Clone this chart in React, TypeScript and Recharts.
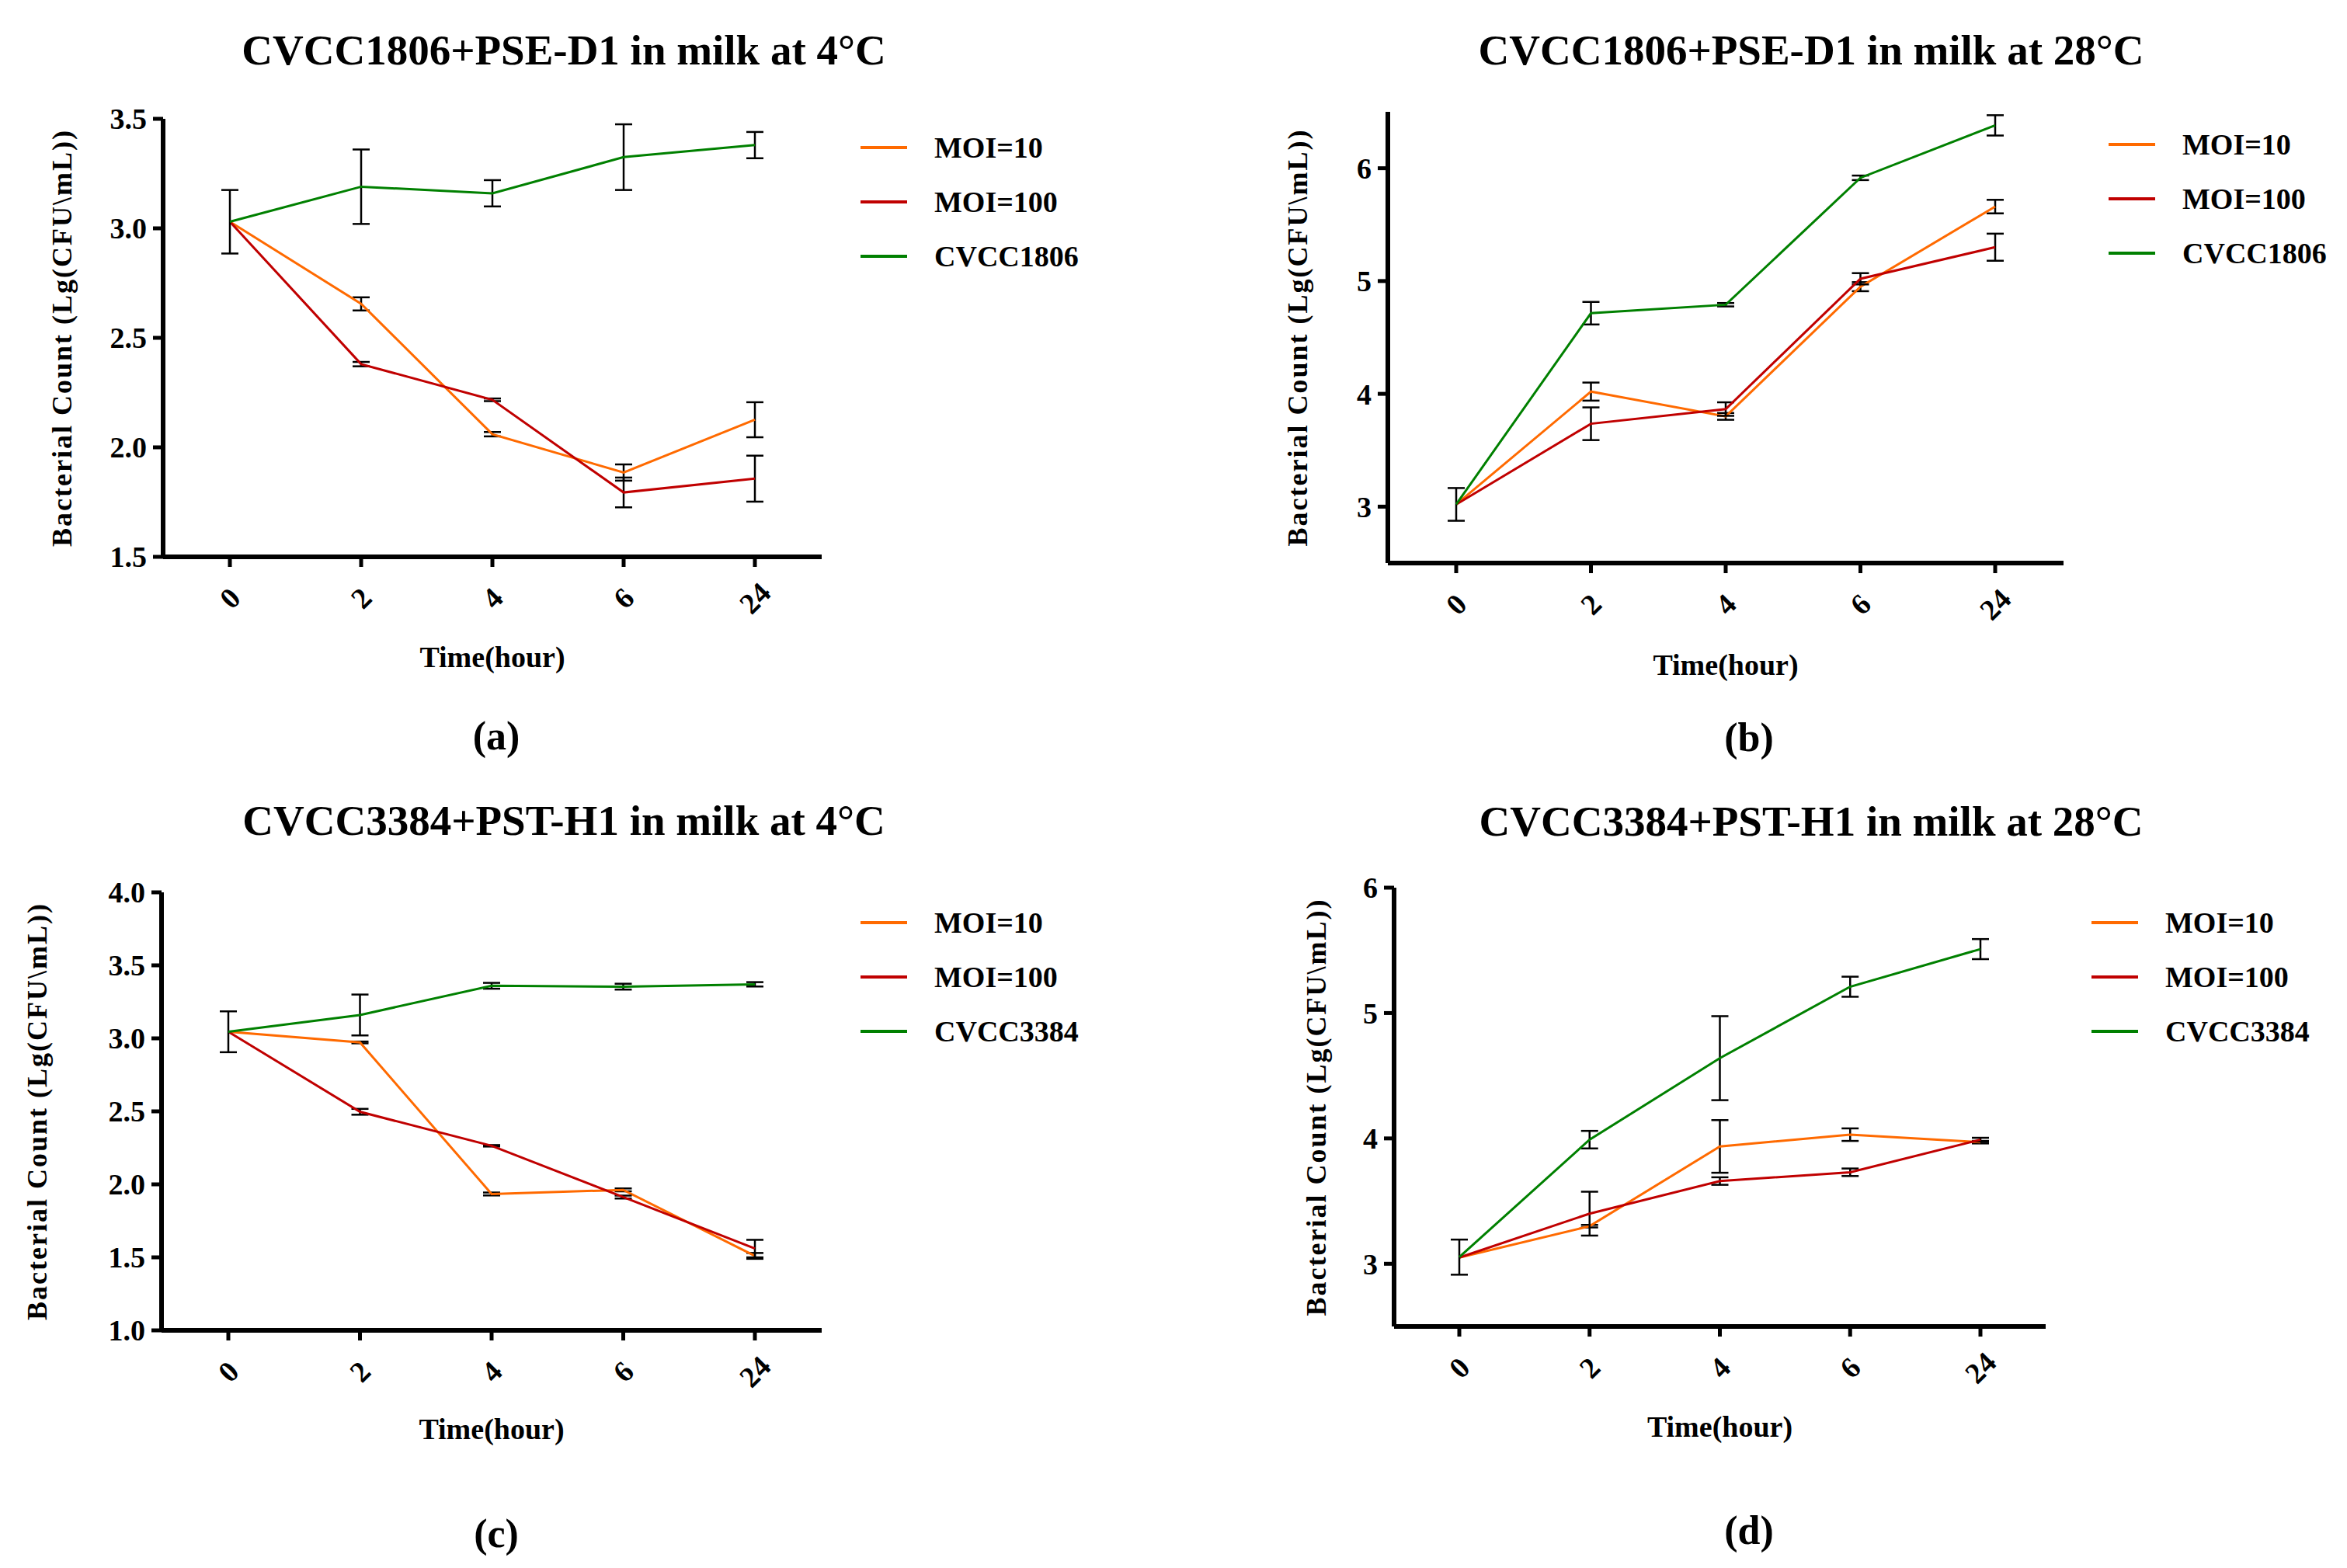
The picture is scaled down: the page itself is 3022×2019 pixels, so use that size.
import React from 'react';
import { LineChart, Line, XAxis, YAxis, ErrorBar, Legend } from 'recharts';

// Sampling times (hours) shared by all four panels
const TIMES = ['0', '2', '4', '6', '24'];

// (a) CVCC1806 + PSE-D1, 4°C
const A_MOI10 = [3.03, 2.655, 2.06, 1.885, 2.126];
const A_MOI10_ERR = [0, 0.03, 0.01, 0.037, 0.08];
const A_MOI100 = [3.03, 2.38, 2.217, 1.794, 1.857];
const A_MOI100_ERR = [0, 0.01, 0.006, 0.068, 0.105];
const A_CTRL = [3.03, 3.19, 3.16, 3.325, 3.38];
const A_CTRL_ERR = [0.145, 0.17, 0.06, 0.15, 0.06];

// (b) CVCC1806 + PSE-D1, 28°C
const B_MOI10 = [3.02, 4.02, 3.8, 4.95, 5.66];
const B_MOI10_ERR = [0, 0.08, 0.03, 0.04, 0.06];
const B_MOI100 = [3.02, 3.735, 3.865, 5.02, 5.3];
const B_MOI100_ERR = [0, 0.145, 0.06, 0.05, 0.12];
const B_CTRL = [3.02, 4.715, 4.79, 5.915, 6.38];
const B_CTRL_ERR = [0.145, 0.1, 0.015, 0.02, 0.09];

// (c) CVCC3384 + PST-H1, 4°C
const C_MOI10 = [3.045, 2.972, 1.934, 1.962, 1.51];
const C_MOI10_ERR = [0, 0.006, 0.01, 0.01, 0.02];
const C_MOI100 = [3.045, 2.497, 2.264, 1.913, 1.56];
const C_MOI100_ERR = [0, 0.02, 0.005, 0.01, 0.06];
const C_CTRL = [3.045, 3.16, 3.36, 3.354, 3.37];
const C_CTRL_ERR = [0.14, 0.14, 0.02, 0.02, 0.015];

// (d) CVCC3384 + PST-H1, 28°C
const D_MOI10 = [3.05, 3.3, 3.936, 4.03, 3.97];
const D_MOI10_ERR = [0, 0.01, 0.21, 0.05, 0.01];
const D_MOI100 = [3.05, 3.4, 3.66, 3.73, 3.99];
const D_MOI100_ERR = [0, 0.175, 0.03, 0.03, 0.015];
const D_CTRL = [3.053, 3.99, 4.64, 5.21, 5.51];
const D_CTRL_ERR = [0.14, 0.07, 0.335, 0.08, 0.08];

const TICKS_4C_A = [1.5, 2.0, 2.5, 3.0, 3.5];
const TICKS_4C_C = [1.0, 1.5, 2.0, 2.5, 3.0, 3.5, 4.0];
const TICKS_28C = [3, 4, 5, 6];

// legend rows in the order the figure lists them
const LEGEND_ORDER = ['moi10', 'moi100', 'ctrl'];

const ORANGE = '#ff6a00';
const RED = '#c00000';
const GREEN = '#008000';
const FONT = '"Liberation Serif", "Times New Roman", serif';

const buildRows = (m10, m10e, m100, m100e, ctrl, ctrle) =>
  TIMES.map((t, i) => ({
    time: t,
    moi10: m10[i],
    moi10Err: m10e[i],
    moi100: m100[i],
    moi100Err: m100e[i],
    ctrl: ctrl[i],
    ctrlErr: ctrle[i],
  }));

const TimeTick = (props: any) => {
  const { x, y, payload } = props;
  const cy = y + 40;
  return (
    <text
      x={x}
      y={cy}
      textAnchor="middle"
      dominantBaseline="central"
      transform={`rotate(-45 ${x} ${cy})`}
      fontFamily={FONT}
      fontWeight="bold"
      fontSize={38}
      fill="#000"
    >
      {payload.value}
    </text>
  );
};

const LegendBox = ({ payload }: any) => {
  const items = [...(payload || [])].sort(
    (p: any, q: any) => LEGEND_ORDER.indexOf(p.dataKey) - LEGEND_ORDER.indexOf(q.dataKey)
  );
  return (
    <div style={{ fontFamily: FONT, fontWeight: 'bold', fontSize: 38 }}>
      {items.map((e: any) => (
        <div key={e.value} style={{ height: 70, display: 'flex', alignItems: 'center' }}>
          <svg width={60} height={6} style={{ display: 'block' }}>
            <line x1={0} y1={3} x2={60} y2={3} stroke={e.color} strokeWidth={4} />
          </svg>
          <span style={{ marginLeft: 35, whiteSpace: 'nowrap', color: '#000' }}>{e.value}</span>
        </div>
      ))}
    </div>
  );
};

const Panel = ({
  ox, oy, w, h, margin, pad, rows, domain, ticks, decimals,
  strain, title, letter, titleX, titleY, yLabelDist, xLabelDist, legendX, legendY, letterX, letterY,
}: any) => (
  <div style={{ position: 'absolute', left: ox, top: oy, width: w, height: h }}>
    <div
      style={{
        position: 'absolute', left: titleX, top: titleY, transform: 'translate(-50%, -50%)',
        fontFamily: FONT, fontWeight: 'bold', fontSize: 55, whiteSpace: 'nowrap',
      }}
    >
      {title}
    </div>
    <div
      style={{
        position: 'absolute', left: letterX, top: letterY, transform: 'translate(-50%, -50%)',
        fontFamily: FONT, fontWeight: 'bold', fontSize: 52, whiteSpace: 'nowrap',
      }}
    >
      {letter}
    </div>
    <LineChart width={w} height={h} data={rows} margin={margin}>
      <XAxis
        dataKey="time"
        type="category"
        padding={{ left: pad, right: pad }}
        axisLine={{ stroke: '#000', strokeWidth: 6 }}
        tickLine={{ stroke: '#000', strokeWidth: 5 }}
        tickSize={13}
        tickMargin={0}
        height={100}
        tick={<TimeTick />}
        interval={0}
        label={{
          content: ({ viewBox }: any) => (
            <text
              x={viewBox.x + viewBox.width / 2}
              y={viewBox.y + xLabelDist}
              textAnchor="middle"
              dominantBaseline="central"
              fontFamily={FONT}
              fontWeight="bold"
              fontSize={38}
              fill="#000"
            >
              Time(hour)
            </text>
          ),
        }}
      />
      <YAxis
        type="number"
        domain={domain}
        ticks={ticks}
        interval={0}
        allowDataOverflow
        width={120}
        axisLine={{ stroke: '#000', strokeWidth: 6 }}
        tickLine={{ stroke: '#000', strokeWidth: 5 }}
        tickSize={13}
        tickMargin={8}
        tickFormatter={(v: number) => v.toFixed(decimals)}
        tick={{ fontFamily: FONT, fontWeight: 'bold', fontSize: 38, fill: '#000' }}
        label={{
          content: ({ viewBox }: any) => {
            const cx = viewBox.x + viewBox.width - yLabelDist;
            const cy = viewBox.y + viewBox.height / 2;
            return (
              <text
                x={cx}
                y={cy}
                textAnchor="middle"
                dominantBaseline="central"
                transform={`rotate(-90 ${cx} ${cy})`}
                fontFamily={FONT}
                fontWeight="bold"
                fontSize={36}
                letterSpacing={2}
                fill="#000"
              >
                {'Bacterial Count (Lg(CFU\\mL))'}
              </text>
            );
          },
        }}
      />
      <Legend
        layout="vertical"
        align="center"
        verticalAlign="middle"
        wrapperStyle={{ left: legendX, top: legendY, width: 'auto', height: 'auto' }}
        content={<LegendBox />}
      />
      <Line dataKey="moi10" name="MOI=10" stroke={ORANGE} strokeWidth={3} dot={false} isAnimationActive={false}>
        <ErrorBar dataKey="moi10Err" width={11} strokeWidth={2.5} stroke="#000" direction="y" />
      </Line>
      <Line dataKey="moi100" name="MOI=100" stroke={RED} strokeWidth={3} dot={false} isAnimationActive={false}>
        <ErrorBar dataKey="moi100Err" width={11} strokeWidth={2.5} stroke="#000" direction="y" />
      </Line>
      <Line dataKey="ctrl" name={strain} stroke={GREEN} strokeWidth={3} dot={false} isAnimationActive={false}>
        <ErrorBar dataKey="ctrlErr" width={11} strokeWidth={2.5} stroke="#000" direction="y" />
      </Line>
    </LineChart>
  </div>
);

export default function App() {
  return (
    <div style={{ position: 'absolute', left: 0, top: 0, width: 3022, height: 2019, background: '#fff', overflow: 'hidden' }}>
      <Panel
        ox={0} oy={0} w={1511} h={1000}
        margin={{ top: 153, right: 453, bottom: 183, left: 90 }}
        pad={86}
        rows={buildRows(A_MOI10, A_MOI10_ERR, A_MOI100, A_MOI100_ERR, A_CTRL, A_CTRL_ERR)}
        domain={[1.5, 3.5]} ticks={TICKS_4C_A} decimals={1}
        strain="CVCC1806" title="CVCC1806+PSE-D1 in milk at 4°C" letter="(a)"
        titleX={726} titleY={64} yLabelDist={130} xLabelDist={129}
        legendX={1108} legendY={155} letterX={639} letterY={947}
      />
      <Panel
        ox={1511} oy={0} w={1511} h={1000}
        margin={{ top: 144, right: 365, bottom: 175, left: 156 }}
        pad={88}
        rows={buildRows(B_MOI10, B_MOI10_ERR, B_MOI100, B_MOI100_ERR, B_CTRL, B_CTRL_ERR)}
        domain={[2.5, 6.5]} ticks={TICKS_28C} decimals={0}
        strain="CVCC1806" title="CVCC1806+PSE-D1 in milk at 28°C" letter="(b)"
        titleX={821} titleY={64} yLabelDist={116} xLabelDist={131}
        legendX={1204} legendY={151} letterX={741} letterY={949}
      />
      <Panel
        ox={0} oy={1000} w={1511} h={1019}
        margin={{ top: 149, right: 453, bottom: 206, left: 88 }}
        pad={86}
        rows={buildRows(C_MOI10, C_MOI10_ERR, C_MOI100, C_MOI100_ERR, C_CTRL, C_CTRL_ERR)}
        domain={[1.0, 4.0]} ticks={TICKS_4C_C} decimals={1}
        strain="CVCC3384" title="CVCC3384+PST-H1 in milk at 4°C" letter="(c)"
        titleX={726} titleY={56} yLabelDist={160} xLabelDist={127}
        legendX={1108} legendY={153} letterX={639} letterY={974}
      />
      <Panel
        ox={1511} oy={1000} w={1511} h={1019}
        margin={{ top: 143, right: 388, bottom: 211, left: 164 }}
        pad={84}
        rows={buildRows(D_MOI10, D_MOI10_ERR, D_MOI100, D_MOI100_ERR, D_CTRL, D_CTRL_ERR)}
        domain={[2.5, 6]} ticks={TICKS_28C} decimals={0}
        strain="CVCC3384" title="CVCC3384+PST-H1 in milk at 28°C" letter="(d)"
        titleX={821} titleY={57} yLabelDist={100} xLabelDist={129}
        legendX={1182} legendY={153} letterX={741} letterY={970}
      />
    </div>
  );
}
